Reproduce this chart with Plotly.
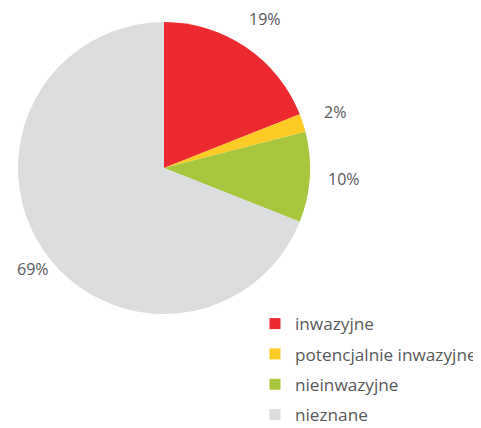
import math
import plotly.graph_objects as go

# kategorie i udziały (%)
labels = ['inwazyjne', 'potencjalnie inwazyjne', 'nieinwazyjne', 'nieznane']
values = [19, 2, 10, 69]
colors = ['#ED2A2F', '#FDCB23', '#A7C63D', '#DCDDDF']

W, H = 481, 428
OFF = 8  # page body margin shifts the figure by this much
# pie placement in page pixels
cx, cy, r = 164 - OFF, 168 - OFF, 146
label_r = 180

fig = go.Figure()

fig.add_trace(go.Pie(
    labels=labels, values=values, sort=False,
    direction='clockwise', rotation=0,
    marker=dict(colors=colors, line=dict(width=0)),
    textinfo='none', hoverinfo='label+percent',
    showlegend=False,
    domain=dict(x=[(cx - r) / W, (cx + r) / W],
                y=[1 - (cy + r) / H, 1 - (cy - r) / H]),
))

# legend entries as dummy traces so the row spacing can be matched
for i, (lab, col) in enumerate(zip(labels, colors)):
    fig.add_trace(go.Scatter(
        x=[None], y=[None], mode='markers', name=lab,
        marker=dict(symbol='square', size=11, color=col),
        legendgroup=str(i), showlegend=True,
    ))

# percentage labels placed outward from each slice's mid-angle
total = sum(values)
annotations = []
cum = 0
for v in values:
    mid = (cum + v / 2) / total
    cum += v
    ang = 2 * math.pi * mid
    px = cx + label_r * math.sin(ang)
    py = cy - label_r * math.cos(ang)
    annotations.append(dict(
        x=px / W, y=1 - py / H, xref='paper', yref='paper',
        xanchor='center' if mid < 0.5 else 'left', yanchor='middle',
        text=f'{v}%', showarrow=False,
        font=dict(size=16, color='#58595B'),
    ))

fig.update_layout(
    width=W, height=H,
    margin=dict(l=0, r=0, t=0, b=0, autoexpand=False),
    paper_bgcolor='white', plot_bgcolor='white',
    font=dict(family='Open Sans', color='#58595B'),
    xaxis=dict(visible=False), yaxis=dict(visible=False),
    annotations=annotations,
    legend=dict(
        x=0.5135, y=0.304, xanchor='left', yanchor='top',
        font=dict(size=17.2, color='#58595B'),
        tracegroupgap=5, bgcolor='rgba(0,0,0,0)',
    ),
)

fig.write_html('out.html')
